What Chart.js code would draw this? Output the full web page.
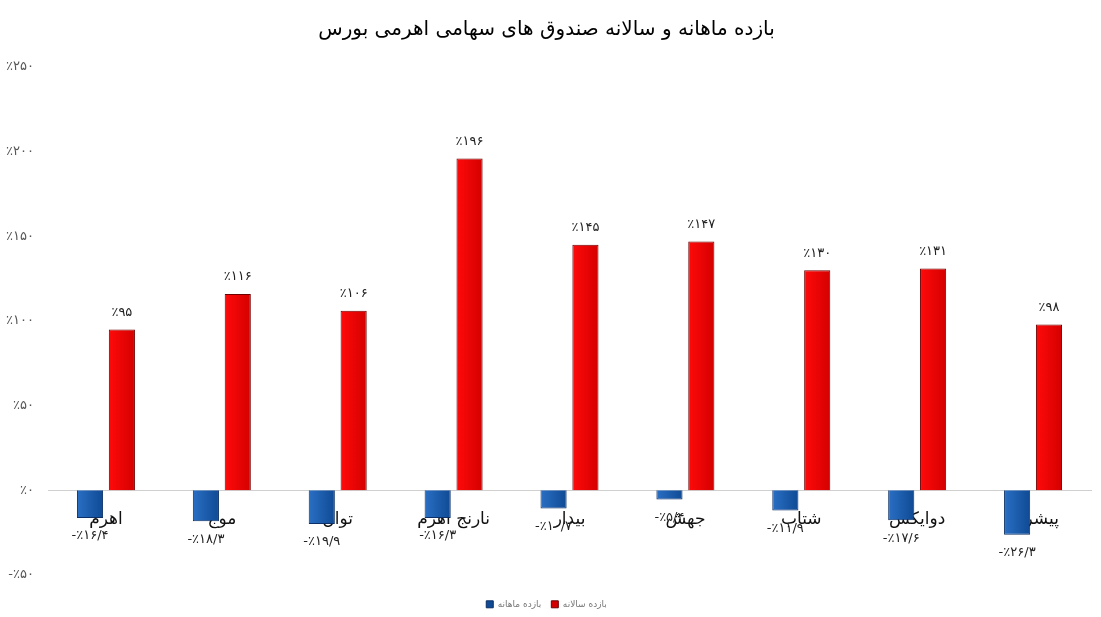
<!DOCTYPE html>
<html>
<head>
<meta charset="utf-8">
<script src="https://cdn.jsdelivr.net/npm/chart.js@4.4.1/dist/chart.umd.min.js"></script>
<style>
  html, body { margin: 0; padding: 0; background: #fff; }
  #wrap { width: 1101px; height: 617px; }
</style>
</head>
<body>
<div id="wrap"><canvas id="myBarChart"></canvas></div>
<script>
"use strict";

// data
const categories = ['اهرم', 'موج', 'توان', 'نارنج اهرم', 'بیدار', 'جهش', 'شتاب', 'دوایکس', 'پیشران'];
const monthly = [-16.4, -18.3, -19.9, -16.3, -10.7, -5.4, -11.9, -17.6, -26.3];
const annual = [95, 116, 106, 196, 145, 147, 130, 131, 98];
const yMin = -50;
const yMax = 250;
const yStep = 50;
const seriesNames = ['بازده ماهانه', 'بازده سالانه'];
const titleText = 'بازده ماهانه و سالانه صندوق های سهامی اهرمی بورس';

const faDigits = '۰۱۲۳۴۵۶۷۸۹';
function fa(n) {
  return String(n).replace('.', '/').replace(/[0-9]/g, d => faDigits[d]);
}
function pct(v) {
  return (v < 0 ? '-' : '') + '٪' + fa(Math.abs(v));
}

const FONT = "'DejaVu Sans', sans-serif";

// horizontal gradient per bar
function barFill(left, right, solid) {
  return function(ctx) {
    const chart = ctx.chart;
    const el = chart.getDatasetMeta(ctx.datasetIndex).data[ctx.dataIndex];
    if (!el || el.x === undefined || !el.width) return solid;
    const g = chart.ctx.createLinearGradient(el.x - el.width / 2, 0, el.x + el.width / 2, 0);
    g.addColorStop(0, left);
    g.addColorStop(1, right);
    return g;
  };
}

// value labels at the bar ends
const valueLabels = {
  id: 'valueLabels',
  afterDatasetsDraw(chart) {
    const c = chart.ctx;
    c.save();
    c.font = '13px ' + FONT;
    c.fillStyle = '#222';
    c.textAlign = 'center';
    c.textBaseline = 'middle';
    chart.data.datasets.forEach((ds, i) => {
      chart.getDatasetMeta(i).data.forEach((el, j) => {
        const v = ds.data[j];
        const y = v < 0 ? el.y + 18 : el.y - 17;
        c.fillText(pct(v), el.x, y);
      });
    });
    c.restore();
  }
};

// fixed legend box height so the plot ends where the reference does
const legendHeight = {
  id: 'legendHeight',
  beforeInit(chart) {
    const orig = chart.legend.fit;
    chart.legend.fit = function() {
      orig.call(this);
      this.height = 42;
    };
  }
};

const barCtx = document.getElementById('myBarChart').getContext('2d');
let myBarChart = new Chart(barCtx, {
  type: 'bar',
  data: {
    labels: categories,
    datasets: [{
      label: seriesNames[0],
      data: monthly,
      backgroundColor: barFill('#2a6fc4', '#0f4a94', '#1c5fb0'),
      borderColor: '#0b2f66',
      borderWidth: 1,
      categoryPercentage: 0.55,
      barPercentage: 0.82
    }, {
      label: seriesNames[1],
      data: annual,
      backgroundColor: barFill('#ff0a0a', '#d40000', '#ee0000'),
      borderColor: '#6e0000',
      borderWidth: 1,
      categoryPercentage: 0.55,
      barPercentage: 0.82
    }]
  },
  options: {
    responsive: true,
    maintainAspectRatio: false,
    animation: false,
    layout: { padding: { left: 2, right: 10, top: 0, bottom: 0 } },
    plugins: {
      title: {
        display: true,
        text: titleText,
        color: '#000',
        font: { family: FONT, size: 20, weight: 'normal' },
        padding: { top: 18, bottom: 25 }
      },
      legend: {
        position: 'bottom',
        title: {
          display: true,
          text: ' ',
          font: { size: 9 },
          padding: { top: 4, bottom: 0 }
        },
        labels: {
          color: '#777',
          font: { family: FONT, size: 9 },
          boxWidth: 7,
          boxHeight: 7,
          padding: 10
        }
      },
      tooltip: { enabled: false }
    },
    scales: {
      x: {
        position: { y: 0 },
        grid: { display: false },
        border: { display: true, color: '#d0d0d0', width: 1 },
        ticks: {
          color: '#111',
          font: { family: FONT, size: 17 },
          padding: 11
        }
      },
      y: {
        min: yMin,
        max: yMax,
        grid: { display: false },
        border: { display: false },
        ticks: {
          stepSize: yStep,
          color: '#555',
          font: { family: FONT, size: 13 },
          padding: 6,
          callback: v => pct(v)
        },
        afterFit(scale) { scale.width = 46; }
      }
    }
  },
  plugins: [valueLabels, legendHeight]
});
myBarChart.update('none');
</script>
</body>
</html>
